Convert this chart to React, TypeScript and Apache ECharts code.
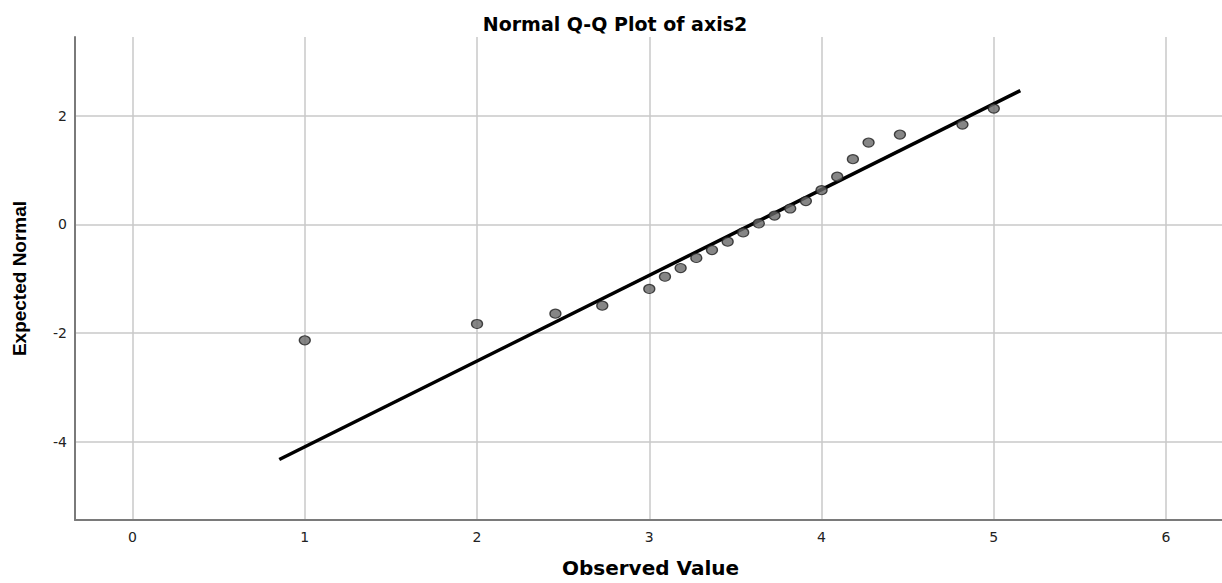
import React, { useEffect, useRef } from "react";
import * as echarts from "echarts";

const observedValues = [1.0, 2.0, 2.455, 2.727, 3.0, 3.091, 3.182, 3.273, 3.364, 3.455, 3.545, 3.636, 3.727, 3.818, 3.909, 4.0, 4.091, 4.182, 4.273, 4.455, 4.818, 5.0];
const expectedNormal = [-2.135, -1.834, -1.644, -1.497, -1.19, -0.965, -0.805, -0.62, -0.474, -0.32, -0.15, 0.015, 0.16, 0.29, 0.426, 0.628, 0.876, 1.198, 1.503, 1.65, 1.834, 2.128];
const refLineX = [0.852, 5.154];
const refLineY = [-4.327, 2.458];

const xMin = -0.334;
const xMax = 6.348;
const yMin = -5.44;
const yMax = 3.445;

const hFont = "'DejaVu Sans', 'Liberation Sans', Arial, sans-serif";
const vFont = "'Liberation Sans', Arial, sans-serif";

export default function App() {
  const ref = useRef<HTMLDivElement>(null);
  useEffect(() => {
    if (!ref.current) return;
    const chart = echarts.init(ref.current, null, { renderer: "svg" });
    const isMult = (v: number, step: number) => Math.abs(v / step - Math.round(v / step)) < 1e-6;
    chart.setOption({
      animation: false,
      backgroundColor: "#ffffff",
      title: {
        text: "Normal Q-Q Plot of axis2",
        left: 610,
        top: 9,
        textAlign: "center",
        textStyle: { fontFamily: hFont, fontWeight: "bold", fontSize: 19, color: "#000000" },
      },
      grid: { left: 75, right: 0, top: 37, bottom: 62, containLabel: false },
      xAxis: {
        type: "value",
        min: xMin,
        max: xMax,
        splitNumber: 6,
        name: "Observed Value",
        nameLocation: "middle",
        nameGap: 38,
        nameTextStyle: { fontFamily: hFont, fontWeight: "bold", fontSize: 20, color: "#000000" },
        axisLine: { show: true, onZero: false, lineStyle: { color: "#7a7a7a", width: 2 } },
        axisTick: { show: false },
        axisLabel: {
          fontFamily: hFont,
          fontSize: 14,
          color: "#222222",
          margin: 10,
          showMinLabel: false,
          showMaxLabel: false,
          formatter: (v: number) => (isMult(v, 1) ? String(Math.round(v)) : ""),
        },
        splitLine: { show: true, showMinLine: false, showMaxLine: false, lineStyle: { color: "#c8c8c8", width: 1.5 } },
      },
      yAxis: {
        type: "value",
        min: yMin,
        max: yMax,
        splitNumber: 5,
        name: "Expected Normal",
        nameLocation: "middle",
        nameGap: 46,
        nameTextStyle: { fontFamily: vFont, fontWeight: "bold", fontSize: 19, color: "#000000" },
        axisLine: { show: true, onZero: false, lineStyle: { color: "#7a7a7a", width: 2 } },
        axisTick: { show: false },
        axisLabel: {
          fontFamily: hFont,
          fontSize: 14,
          color: "#222222",
          margin: 8,
          showMinLabel: false,
          showMaxLabel: false,
          formatter: (v: number) => (isMult(v, 2) ? String(Math.round(v)) : ""),
        },
        splitLine: { show: true, showMinLine: false, showMaxLine: false, lineStyle: { color: "#c8c8c8", width: 1.5 } },
      },
      series: [
        {
          type: "line",
          data: refLineX.map((x, i) => [x, refLineY[i]]),
          showSymbol: false,
          symbol: "none",
          lineStyle: { color: "#000000", width: 3.5 },
          z: 2,
        },
        {
          type: "scatter",
          data: observedValues.map((x, i) => [x, expectedNormal[i]]),
          symbol: "circle",
          symbolSize: [11, 9],
          itemStyle: { color: "#686868", borderColor: "#1e1e1e", borderWidth: 1.2 },
          z: 3,
        },
      ],
    });
    return () => chart.dispose();
  }, []);
  return (
    <div style={{ position: "absolute", left: 0, top: 0, width: 1222, height: 583, overflow: "hidden", background: "#ffffff" }}>
      <div ref={ref} style={{ width: 1226, height: 583 }} />
    </div>
  );
}
